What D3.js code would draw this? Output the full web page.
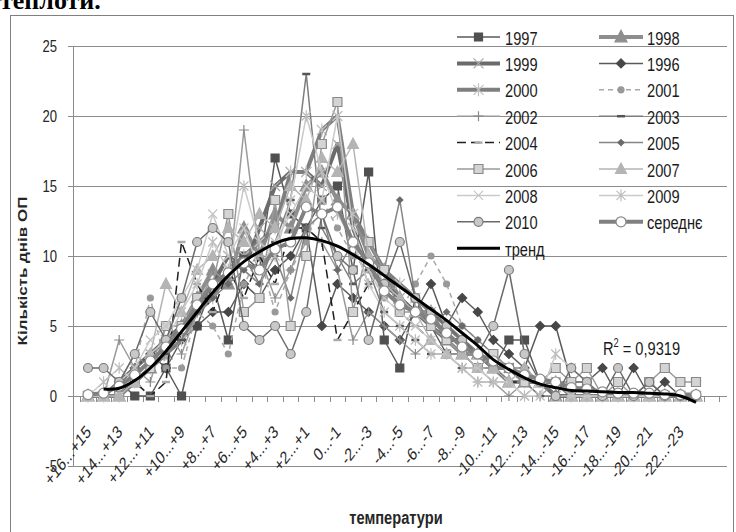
<!DOCTYPE html>
<html>
<head>
<meta charset="utf-8">
<script src="https://cdn.jsdelivr.net/npm/d3@7"></script>
<style>
body { margin: 0; background: #fff; }
svg { display: block; }
</style>
</head>
<body>
<div id="chart"></div>
<script>
// categories (temperature ranges), every second one is labelled
const categories = ["+16...+15","+15...+14","+14...+13","+13...+12","+12...+11","+11...+10","+10...+9","+9...+8",
  "+8...+7","+7...+6","+6...+5","+5...+4","+4...+3","+3...+2","+2...+1","+1...0","0...-1","-1...-2","-2...-3",
  "-3...-4","-4...-5","-5...-6","-6...-7","-7...-8","-8...-9","-9...-10","-10...-11","-11...-12","-12...-13",
  "-13...-14","-14...-15","-15...-16","-16...-17","-17...-18","-18...-19","-19...-20","-20...-21","-21...-22",
  "-22...-23","-23...-24"];
const yTicks = [25, 20, 15, 10, 5, 0, -5];

const y1997 = [0,0,1,0,0, 2,0,5,8,4, 10,9,17,13,12, 14,15,9,16,4, 2,7,5,3,3, 2,2,4,4,1, 1,0,1,0,0, 0,1,0,0,0];
const y1998 = [0,0,0,1,2, 3,5,7,9,8, 12,10,13,12,15, 16,14,13,10,9, 7,6,6,4,3, 3,2,1,1,1, 0,0,0,0,0, 0,0,0,0,0];
const y1999 = [0,0,1,2,3, 4,5,6,8,10, 9,12,15,16,16, 15,18,12,9,8, 7,6,5,4,4, 3,2,2,1,1, 0,0,0,0,0, 0,0,0,0,0];
const y1996 = [0,0,1,2,3, 2,4,5,6,6, 8,7,9,10,12, 5,8,7,6,5, 4,6,8,5,7, 6,4,3,2,5, 5,1,1,2,0, 2,0,1,0,0];
const y2000 = [0,0,0,1,2, 3,4,6,7,9, 10,11,12,16,16, 19,20,13,11,9, 8,7,6,5,4, 3,2,2,1,1, 1,0,0,0,0, 0,0,0,0,0];
const y2001 = [0,0,1,2,7, 2,2,6,5,3, 8,10,6,9,11, 14,12,10,9,7, 6,8,10,8,5, 4,3,2,2,1, 1,0,1,0,0, 0,0,0,0,0];
const y2002 = [0,0,4,2,1, 5,3,6,9,8, 19,10,7,9,12, 11,9,4,6,5, 4,3,4,3,2, 1,1,0,1,0, 1,0,0,0,0, 0,0,0,0,0];
const y2003 = [0,0,0,1,2, 3,4,6,8,9, 10,8,11,14,23, 12,10,8,9,6, 5,4,3,3,2, 2,1,1,1,0, 0,0,0,0,0, 0,0,0,0,0];
const y2004 = [0,0,0,1,0, 1,11,8,6,9, 7,10,8,12,12, 11,4,6,8,9, 6,5,4,3,3, 2,2,1,1,1, 0,0,0,0,0, 0,0,0,0,0];
const y2005 = [0,0,1,3,2, 4,5,6,7,8, 9,8,10,7,12, 13,9,11,8,9, 14,7,5,6,5, 4,3,2,2,1, 1,1,0,0,0, 0,0,0,0,0];
const y2006 = [0,0,0,1,2, 5,5,7,8,13, 6,7,14,5,10, 18,21,6,11,9, 6,6,5,4,3, 2,3,2,1,1, 2,1,2,0,1, 0,1,2,1,1];
const y2007 = [0,0,0,1,3, 8,6,9,10,12, 11,13,12,15,14, 17,16,18,10,8, 7,6,4,3,3, 2,2,1,2,1, 1,0,0,0,0, 0,0,0,0,0];
const y2008 = [0,0,1,2,4, 5,7,9,13,10, 12,9,11,13,15, 14,20,12,9,7, 6,5,4,3,2, 2,1,1,0,1, 0,0,0,0,0, 0,0,0,0,0];
const y2009 = [0,1,2,1,3, 4,6,8,11,9, 15,11,10,14,20, 16,13,11,8,6, 5,4,3,3,2, 1,1,1,0,0, 3,2,1,0,0, 0,0,0,0,0];
const y2010 = [2,2,1,3,6, 4,7,11,12,11, 5,4,5,3,6, 13,10,9,4,8, 11,7,6,5,4, 3,5,9,3,1, 0,2,1,0,2, 0,1,0,0,0];
const yMean = [0.1,0.2,0.7,1.5,2.5, 3.5,4.8,6.5,8,8.8, 9.5,9,10.5,11,13.5, 13,13.5,11,9.5,7.5, 6.5,6,5.5,4.5,3.5,
  3,2.5,2,1.5,1.2, 1,0.6,0.5,0.3,0.2, 0.2,0.2,0.1,0.1,0.1];
const yTrend = [null,0.5,0.55,1.1,2.0, 3.2,4.6,6.0,7.4,8.6, 9.6,10.3,10.9,11.25,11.3, 11.1,10.7,10.1,9.4,8.6,
  7.8,7.0,6.2,5.4,4.5, 3.6,2.6,1.9,1.3,0.85, 0.6,0.4,0.35,0.3,0.25, 0.25,0.2,0.15,0.0,-0.45];
const r2Label = "0,9319";

const series = [
  {name: "1997", values: y1997, stroke: "#5a5a5a", w: 1.5, marker: "square", ms: 4, fill: "#505050", mstroke: "#505050"},
  {name: "1998", values: y1998, stroke: "#8e8e8e", w: 4, marker: "triangle", ms: 6, fill: "#8e8e8e", mstroke: "#8e8e8e"},
  {name: "1999", values: y1999, stroke: "#6b6b6b", w: 4, marker: "x", ms: 5, fill: "none", mstroke: "#a8a8a8"},
  {name: "1996", values: y1996, stroke: "#5a5a5a", w: 1.5, marker: "diamond", ms: 4.5, fill: "#474747", mstroke: "#474747"},
  {name: "2000", values: y2000, stroke: "#7f7f7f", w: 4, marker: "star", ms: 5, fill: "none", mstroke: "#c0c0c0"},
  {name: "2001", values: y2001, stroke: "#a8a8a8", w: 1.5, dash: "5,4", marker: "circle", ms: 3, fill: "#999", mstroke: "#999"},
  {name: "2002", values: y2002, stroke: "#9a9a9a", w: 1.5, marker: "plus", ms: 5, fill: "none", mstroke: "#8a8a8a"},
  {name: "2003", values: y2003, stroke: "#7d7d7d", w: 1.5, marker: "dash", ms: 4, fill: "none", mstroke: "#555"},
  {name: "2004", values: y2004, stroke: "#1e1e1e", w: 1.5, dash: "9,5", marker: "dash", ms: 4, fill: "none", mstroke: "#aaa"},
  {name: "2005", values: y2005, stroke: "#858585", w: 1.5, marker: "diamond", ms: 3, fill: "#6a6a6a", mstroke: "#6a6a6a"},
  {name: "2006", values: y2006, stroke: "#9a9a9a", w: 1.5, marker: "square", ms: 4.5, fill: "#d4d4d4", mstroke: "#8a8a8a"},
  {name: "2007", values: y2007, stroke: "#b4b4b4", w: 1.5, marker: "triangle", ms: 5.5, fill: "#b4b4b4", mstroke: "#b4b4b4"},
  {name: "2008", values: y2008, stroke: "#cacaca", w: 1.5, marker: "x", ms: 4.5, fill: "none", mstroke: "#c4c4c4"},
  {name: "2009", values: y2009, stroke: "#cacaca", w: 1.5, marker: "star", ms: 4.5, fill: "none", mstroke: "#bcbcbc"},
  {name: "2010", values: y2010, stroke: "#6a6a6a", w: 1.5, marker: "circle", ms: 4.5, fill: "#c8c8c8", mstroke: "#7a7a7a"},
  {name: "середнє", values: yMean, stroke: "#808080", w: 4, marker: "circle", ms: 5, fill: "#fff", mstroke: "#8a8a8a"},
  {name: "тренд", values: yTrend, stroke: "#000", w: 3, marker: null, curve: true}
];
const legendRows = [["1997","1998"],["1999","1996"],["2000","2001"],["2002","2003"],["2004","2005"],
  ["2006","2007"],["2008","2009"],["2010","середнє"],["тренд"]];

const width = 736, height = 532;
const plotLeft = 73, plotRight = 727;
const SX = 0.77; // the picture is squeezed horizontally
const font = "'Liberation Sans', Arial, sans-serif";

const svg = d3.select("#chart").append("svg")
    .attr("width", width)
    .attr("height", height);

svg.append("rect").attr("width", width).attr("height", height).attr("fill", "#fff");

// piece of document text above the chart
svg.append("text")
    .attr("x", 0).attr("y", 9)
    .attr("font-family", "'Liberation Serif', serif")
    .attr("font-weight", "bold")
    .attr("font-size", 26)
    .attr("fill", "#000")
    .text("теплоти.");

// chart border
svg.append("rect")
    .attr("x", 10.5).attr("y", 15.5)
    .attr("width", 723).attr("height", 530)
    .attr("fill", "none").attr("stroke", "#808080");

const x = d3.scalePoint().domain(categories).range([88, 696]);
const y = d3.scaleLinear().domain([-5, 25]).range([466, 46]);

function label(g, px, py, s, size, opts = {}) {
    return g.append("text")
        .attr("transform", `translate(${px},${py}) scale(${SX},1)` + (opts.rotate ? ` rotate(${opts.rotate})` : ""))
        .attr("text-anchor", opts.anchor || "start")
        .attr("font-family", font)
        .attr("font-size", size)
        .attr("font-weight", opts.bold ? "bold" : "normal")
        .attr("fill", opts.fill || "#262626")
        .text(s);
}

// gridlines
svg.append("g").selectAll("line")
    .data(yTicks)
    .join("line")
    .attr("x1", plotLeft).attr("x2", plotRight)
    .attr("y1", d => Math.round(y(d)) + 0.5).attr("y2", d => Math.round(y(d)) + 0.5)
    .attr("stroke", "#8c8c8c");

// y axis
svg.append("line")
    .attr("x1", plotLeft + 0.5).attr("x2", plotLeft + 0.5)
    .attr("y1", y(25)).attr("y2", y(-5))
    .attr("stroke", "#8c8c8c");
svg.append("g").selectAll("line")
    .data(yTicks)
    .join("line")
    .attr("x1", plotLeft - 5).attr("x2", plotLeft)
    .attr("y1", d => Math.round(y(d)) + 0.5).attr("y2", d => Math.round(y(d)) + 0.5)
    .attr("stroke", "#8c8c8c");
const yl = svg.append("g");
yTicks.forEach(v => label(yl, 57, y(v) + 6, d3.format("")(v).replace("−", "-"), 17, {anchor: "end"}));

// x axis tick marks at category boundaries
const step = x.step();
const bounds = d3.range(categories.length + 2).map(i => x(categories[0]) - step / 2 + i * step);
svg.append("g").selectAll("line")
    .data(bounds)
    .join("line")
    .attr("x1", d => Math.round(d) + 0.5).attr("x2", d => Math.round(d) + 0.5)
    .attr("y1", y(0)).attr("y2", y(0) + 6)
    .attr("stroke", "#8c8c8c");

const xl = svg.append("g");
categories.forEach((c, i) => {
    if (i % 2 === 0) label(xl, x(c) + 4, 433, c, 18, {anchor: "end", rotate: -45});
});

// axis titles
label(svg, 27, 271, "Кількість днів ОП", 17, {anchor: "middle", rotate: -90, bold: true});
label(svg, 396, 524, "температури", 19, {anchor: "middle", bold: true});

function markerPath(type, s) {
    switch (type) {
        case "square": return `M${-s},${-s}H${s}V${s}H${-s}Z`;
        case "triangle": return `M0,${-s * 1.1}L${s},${s * 0.8}L${-s},${s * 0.8}Z`;
        case "diamond": return `M0,${-s}L${s},0L0,${s}L${-s},0Z`;
        case "x": return `M${-s},${-s}L${s},${s}M${-s},${s}L${s},${-s}`;
        case "star": return `M${-s},${-s}L${s},${s}M${-s},${s}L${s},${-s}M0,${-s * 1.3}V${s * 1.3}`;
        case "plus": return `M${-s},0H${s}M0,${-s}V${s}`;
        case "dash": return `M${-s},0H${s}`;
    }
    return "";
}

function drawMarker(g, s, px, py) {
    if (!s.marker) return;
    if (s.marker === "circle") {
        g.append("circle").attr("cx", px).attr("cy", py).attr("r", s.ms)
            .attr("fill", s.fill).attr("stroke", s.mstroke).attr("stroke-width", 1.2);
    } else {
        const open = ["x", "star", "plus", "dash"].includes(s.marker);
        g.append("path")
            .attr("transform", `translate(${px},${py})`)
            .attr("d", markerPath(s.marker, s.ms))
            .attr("fill", open ? "none" : s.fill)
            .attr("stroke", s.mstroke)
            .attr("stroke-width", s.marker === "dash" ? 2.5 : 1.2);
    }
}

// series
const plot = svg.append("g");
series.forEach(s => {
    const line = d3.line()
        .defined(d => d != null)
        .x((d, i) => x(categories[i]))
        .y(d => y(d));
    if (s.curve) line.curve(d3.curveCatmullRom);
    const g = plot.append("g");
    g.append("path")
        .attr("d", line(s.values))
        .attr("fill", "none")
        .attr("stroke", s.stroke)
        .attr("stroke-width", s.w)
        .attr("stroke-dasharray", s.dash || null)
        .attr("stroke-linejoin", "round");
    s.values.forEach((v, i) => {
        if (v != null) drawMarker(g, s, x(categories[i]), y(v));
    });
});

// legend
const legend = svg.append("g");
const cols = [{x0: 457, x1: 500, tx: 505}, {x0: 599, x1: 643, tx: 647}];
legendRows.forEach((row, r) => {
    const ly = 37 + r * 26.4;
    row.forEach((name, c) => {
        const s = series.find(d => d.name === name);
        const col = cols[c];
        legend.append("line")
            .attr("x1", col.x0).attr("x2", col.x1)
            .attr("y1", ly).attr("y2", ly)
            .attr("stroke", s.stroke)
            .attr("stroke-width", s.w)
            .attr("stroke-dasharray", s.dash || null);
        drawMarker(legend, s, (col.x0 + col.x1) / 2, ly);
        label(legend, col.tx, ly + 7.5, name, 19, {fill: "#1a1a1a"});
    });
});

// R squared of the trend line
const r2 = label(svg, 603, 355, "R", 19, {fill: "#1a1a1a"});
r2.text(null);
r2.append("tspan").text("R");
r2.append("tspan").attr("font-size", 12).attr("dy", -8).text("2");
r2.append("tspan").attr("dy", 8).text(" = " + r2Label);
</script>
</body>
</html>
